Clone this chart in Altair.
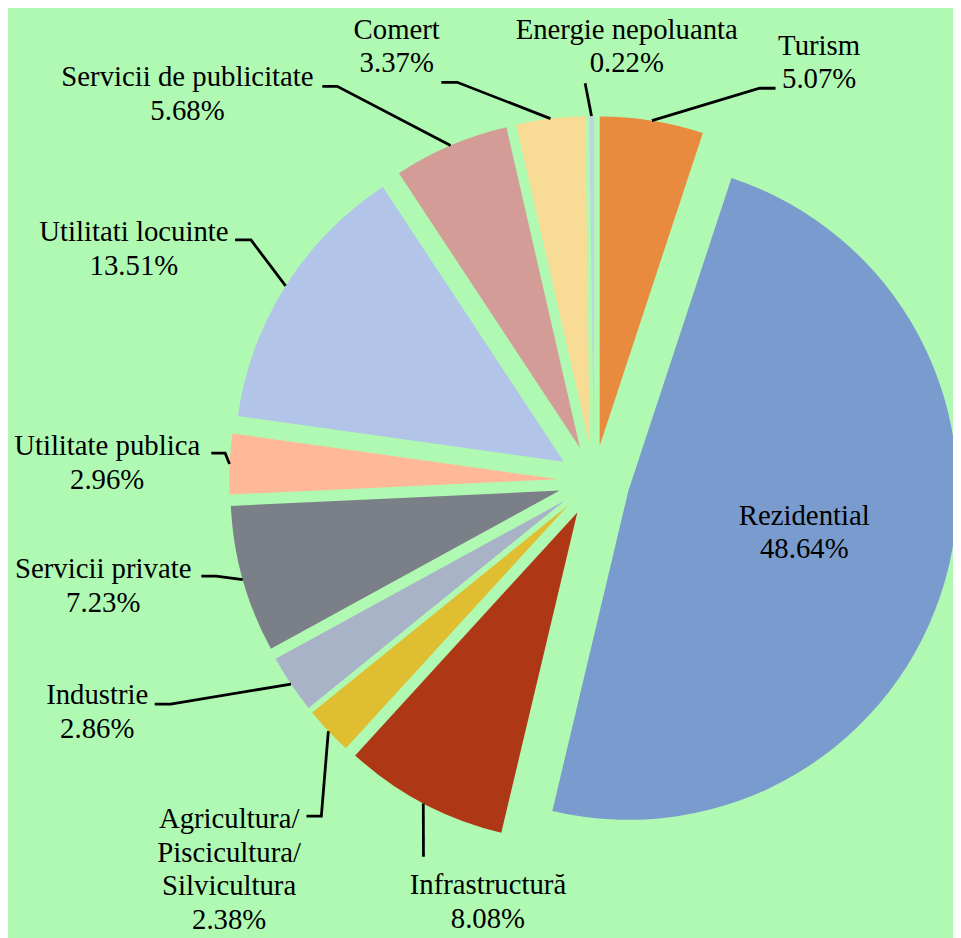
import math
import altair as alt
import pandas as pd

# ---------------- data ----------------
categories = [
    "Turism", "Rezidential", "Infrastructură",
    "Agricultura/Piscicultura/Silvicultura", "Industrie", "Servicii private",
    "Utilitate publica", "Utilitati locuinte", "Servicii de publicitate",
    "Comert", "Energie nepoluanta",
]
shares = [5.07, 48.64, 8.08, 2.38, 2.86, 7.23, 2.96, 13.51, 5.68, 3.37, 0.22]
colors = [
    "#e88b3e", "#7a9bce", "#ae3815", "#e0be32", "#a8b3c8", "#7b7f87",
    "#ffb998", "#b2c5e8", "#d39c96", "#f8dc96", "#c4cfe2",
]

# ---------------- layout (pixels) ----------------
W, H = 953, 930          # drawing area
CX, CY = 591, 473        # pie centre inside the drawing area
R = 332                  # pie radius
EXPLODE = 36             # distance every slice is pulled out
BG = "#b0f9b3"
FONT = "Liberation Serif, Times New Roman, serif"

# label anchors (centre x, first baseline y) relative to the pie centre
label_pos = {
    "Turism": (227, -430),
    "Energie nepoluanta": (33, -446),
    "Comert": (-199, -446),
    "Servicii de publicitate": (-410, -398),
    "Utilitati locuinte": (-464, -242),
    "Utilitate publica": (-491, -26),
    "Servicii private": (-495, 98),
    "Industrie": (-501, 225),
    "Agricultura/Piscicultura/Silvicultura": (-368, 350),
    "Infrastructură": (-107, 417),
    "Rezidential": (212, 44),
}
# leader-line bends (elbow, end) relative to the pie centre
leader_bends = {
    "Turism": [(167, -396), (183, -396)],
    "Energie nepoluanta": [(-9, -401)],
    "Comert": [(-138, -402), (-154, -402)],
    "Servicii de publicitate": [(-259, -398), (-274, -398)],
    "Utilitati locuinte": [(-346, -243), (-362, -243)],
    "Utilitate publica": [(-372, -28), (-386, -28)],
    "Servicii private": [(-381, 96), (-396, 96)],
    "Industrie": [(-427, 225), (-443, 225)],
    "Agricultura/Piscicultura/Silvicultura": [(-275, 338), (-290, 338)],
    "Infrastructură": [(-172, 379)],
}

# ---------------- tables ----------------
total = sum(shares)
rows, leaders, labels = [], [], []
acc = 0.0
for name, v in zip(categories, shares):
    a0 = acc / total * 2 * math.pi
    acc += v
    a1 = acc / total * 2 * math.pi
    mid = (a0 + a1) / 2
    rows.append({
        "name": name, "start": a0, "end": a1,
        "ox": EXPLODE * math.sin(mid), "oy": -EXPLODE * math.cos(mid),
    })
    if name in leader_bends:
        pts = [((R + EXPLODE) * math.sin(mid), -(R + EXPLODE) * math.cos(mid))]
        pts += leader_bends[name]
        for i, (px, py) in enumerate(pts):
            leaders.append({"name": name, "order": i, "x": px, "y": py})
    lx, ly = label_pos[name]
    labels.append({
        "name": name,
        "text": name.replace("/", "/\n") + "\n" + f"{v:.2f}%",
        "x": lx, "y": ly,
    })

slices = pd.DataFrame(rows)
leader_df = pd.DataFrame(leaders)
label_df = pd.DataFrame(labels)

x_scale = alt.Scale(domain=[-CX, W - CX], nice=False, zero=False)
y_scale = alt.Scale(domain=[-CY, H - CY], nice=False, zero=False, reverse=True)

arcs = alt.Chart(slices).mark_arc(outerRadius=R, innerRadius=0).encode(
    theta=alt.Theta("start:Q", scale=None),
    theta2="end:Q",
    x=alt.X("ox:Q", scale=x_scale, axis=None),
    y=alt.Y("oy:Q", scale=y_scale, axis=None),
    color=alt.Color("name:N", scale=alt.Scale(domain=categories, range=colors), legend=None),
)

lines = alt.Chart(leader_df).mark_line(color="black", strokeWidth=2.8).encode(
    x=alt.X("x:Q", scale=x_scale, axis=None),
    y=alt.Y("y:Q", scale=y_scale, axis=None),
    detail="name:N",
    order="order:Q",
)

text = alt.Chart(label_df).mark_text(
    font=FONT, fontSize=29, lineBreak="\n", lineHeight=34,
    align="center", baseline="alphabetic", color="black",
).encode(
    x=alt.X("x:Q", scale=x_scale, axis=None),
    y=alt.Y("y:Q", scale=y_scale, axis=None),
    text="text:N",
)

chart = alt.layer(arcs, lines, text).properties(
    width=W, height=H, background=BG, padding=0,
    autosize=alt.AutoSizeParams(type="none"),
).configure_view(strokeWidth=0)

chart.save("out.html", embed_options={"renderer": "svg", "actions": False})
